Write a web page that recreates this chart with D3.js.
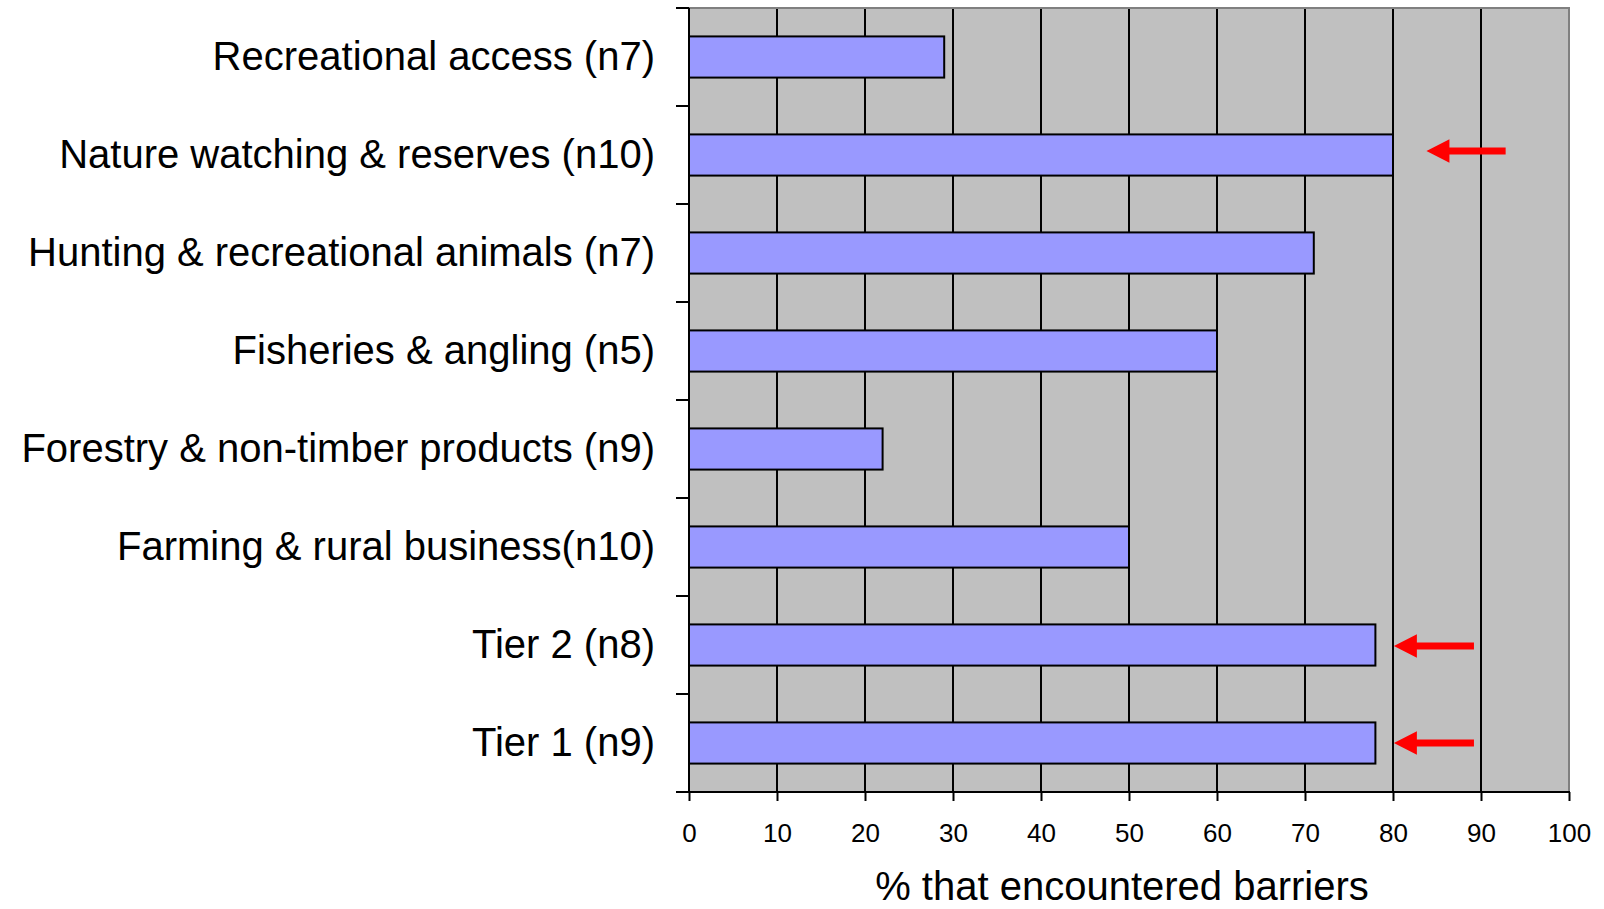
<!DOCTYPE html>
<html>
<head>
<meta charset="utf-8">
<script src="https://cdn.jsdelivr.net/npm/d3@7"></script>
<style>
  html, body { margin: 0; padding: 0; background: #fff; }
  svg { display: block; }
  text { font-family: "Liberation Sans", Arial, sans-serif; fill: #000; }
</style>
</head>
<body>
<svg id="chart" width="1604" height="909"></svg>
<script>
// ---- data ----
const categories = [
  "Recreational access (n7)",
  "Nature watching & reserves (n10)",
  "Hunting & recreational animals (n7)",
  "Fisheries & angling (n5)",
  "Forestry & non-timber products (n9)",
  "Farming & rural business(n10)",
  "Tier 2 (n8)",
  "Tier 1 (n9)"
];
const values = [29, 80, 71, 60, 22, 50, 78, 78];
const xTicks = [0, 10, 20, 30, 40, 50, 60, 70, 80, 90, 100];
const xTitle = "% that encountered barriers";
// arrows: category, tip value, tail value
const arrowCats = ["Nature watching & reserves (n10)", "Tier 2 (n8)", "Tier 1 (n9)"];
const arrowTips = [83.8, 80.1, 80.1];
const arrowTails = [92.8, 89.2, 89.2];

// ---- layout ----
const pLeft = 689, pRight = 1569, pTop = 8, pBottom = 792;
const svg = d3.select("#chart");

const x = d3.scaleLinear().domain([0, 100]).range([pLeft, pRight]);
const y = d3.scaleBand().domain(categories).range([pTop, pBottom])
  .paddingInner(0.58).paddingOuter(0.29);

// plot background
svg.append("rect")
  .attr("x", x(0)).attr("y", pTop)
  .attr("width", x(100) - x(0)).attr("height", pBottom - pTop)
  .attr("fill", "#c0c0c0");

// vertical gridlines
svg.append("g").selectAll("line")
  .data(xTicks.filter(d => d > 0 && d < 100))
  .join("line")
  .attr("x1", d => x(d)).attr("x2", d => x(d))
  .attr("y1", pTop).attr("y2", pBottom)
  .attr("stroke", "#000").attr("stroke-width", 2);

// top and right border (grey)
svg.append("path")
  .attr("d", `M${x(0)},${pTop}H${x(100)}V${pBottom}`)
  .attr("fill", "none").attr("stroke", "#808080").attr("stroke-width", 2);

// bars
svg.append("g").selectAll("rect")
  .data(categories)
  .join("rect")
  .attr("x", x(0))
  .attr("y", d => y(d))
  .attr("width", (d, i) => x(values[i]) - x(0))
  .attr("height", y.bandwidth())
  .attr("fill", "#9999ff")
  .attr("stroke", "#000")
  .attr("stroke-width", 2);

// y axis: labels
const yAxis = svg.append("g")
  .attr("transform", `translate(${pLeft},0)`)
  .call(d3.axisLeft(y).tickSize(0).tickPadding(34));
yAxis.select(".domain").remove();
yAxis.selectAll("text")
  .attr("font-size", 40)
  .attr("font-family", "'Liberation Sans', Arial, sans-serif")
  .attr("dy", "0.32em");

// y axis line and boundary ticks
const bounds = d3.range(categories.length + 1).map(i => pTop + i * y.step());
svg.append("line")
  .attr("x1", pLeft).attr("x2", pLeft)
  .attr("y1", pTop).attr("y2", pBottom)
  .attr("stroke", "#000").attr("stroke-width", 2);
svg.append("g").selectAll("line")
  .data(bounds)
  .join("line")
  .attr("x1", pLeft - 13).attr("x2", pLeft)
  .attr("y1", d => d).attr("y2", d => d)
  .attr("stroke", "#000").attr("stroke-width", 2);

// x axis
const xAxis = svg.append("g")
  .attr("transform", `translate(0,${pBottom})`)
  .call(d3.axisBottom(x).tickValues(xTicks).tickSize(9).tickPadding(23).tickFormat(d3.format("d")));
xAxis.select(".domain").remove();
xAxis.selectAll(".tick line").attr("stroke", "#000").attr("stroke-width", 2);
xAxis.selectAll("text")
  .attr("font-size", 26)
  .attr("font-family", "'Liberation Sans', Arial, sans-serif");
svg.append("line")
  .attr("x1", pLeft - 13).attr("x2", pRight + 1)
  .attr("y1", pBottom).attr("y2", pBottom)
  .attr("stroke", "#000").attr("stroke-width", 2);

// x title
svg.append("text")
  .attr("x", (pLeft + pRight) / 2 - 7)
  .attr("y", 900)
  .attr("text-anchor", "middle")
  .attr("font-size", 40)
  .text(xTitle);

// red arrows
const arrowOffset = [-4, 1, 0];
const headLen = 23, headHalf = 11.7, shaftHalf = 3.6;
svg.append("g").selectAll("path")
  .data(arrowCats)
  .join("path")
  .attr("d", (c, i) => {
    const cy = y(c) + y.bandwidth() / 2 + arrowOffset[i];
    const tip = x(arrowTips[i]), tail = x(arrowTails[i]);
    const base = tip + headLen;
    return `M${tip},${cy}L${base},${cy - headHalf}L${base},${cy - shaftHalf}` +
           `L${tail},${cy - shaftHalf}L${tail},${cy + shaftHalf}L${base},${cy + shaftHalf}` +
           `L${base},${cy + headHalf}Z`;
  })
  .attr("fill", "#ff0000");
</script>
</body>
</html>
